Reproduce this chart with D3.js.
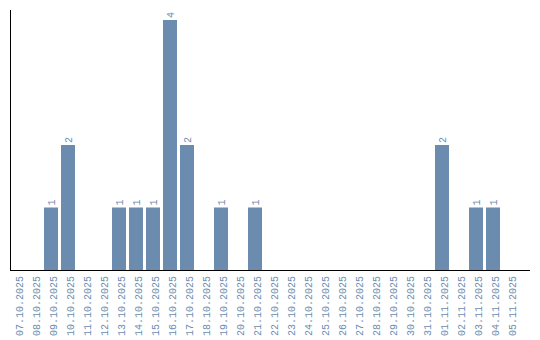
<!DOCTYPE html>
<html><head><meta charset="utf-8">
<script src="https://cdn.jsdelivr.net/npm/d3@7"></script>
<style>body{margin:0;background:#fff}svg{display:block}</style>
</head><body><div id="chart"></div>
<script>
const dates = ["07.10.2025","08.10.2025","09.10.2025","10.10.2025","11.10.2025","12.10.2025","13.10.2025","14.10.2025","15.10.2025","16.10.2025","17.10.2025","18.10.2025","19.10.2025","20.10.2025","21.10.2025","22.10.2025","23.10.2025","24.10.2025","25.10.2025","26.10.2025","27.10.2025","28.10.2025","29.10.2025","30.10.2025","31.10.2025","01.11.2025","02.11.2025","03.11.2025","04.11.2025","05.11.2025"];
const counts = [0,0,1,2,0,0,1,1,1,4,2,0,1,0,1,0,0,0,0,0,0,0,0,0,0,2,0,1,1,0];

const W=540,H=340;
const svg=d3.select("#chart").append("svg").attr("width",W).attr("height",H);
const color="#6b8caf", font="Liberation Mono";
const x=d3.scaleBand().domain(dates).range([10,517]).paddingInner(3/17).paddingOuter(0);
const y=d3.scaleLinear().domain([0,4]).range([270,20]);

svg.append("g").selectAll("rect").data(dates.map((d,i)=>({d,v:counts[i]})).filter(o=>o.v>0))
 .join("rect").attr("x",o=>x(o.d)).attr("width",x.bandwidth())
 .attr("y",o=>y(o.v)).attr("height",o=>y(0)-y(o.v)).attr("fill",color);

svg.append("g").selectAll("text").data(dates.map((d,i)=>({d,v:counts[i]})).filter(o=>o.v>0))
 .join("text").attr("transform",o=>`translate(${x(o.d)+x.bandwidth()/2},${y(o.v)-2}) rotate(-90)`)
 .attr("dy","0.35em").attr("text-anchor","start").attr("font-family",font).attr("font-size",10)
 .attr("fill",color).text(o=>o.v);

svg.append("g").selectAll("text").data(dates).join("text")
 .attr("transform",d=>`translate(${x(d)+x.bandwidth()/2},276) rotate(-90)`)
 .attr("dy","0.55em").attr("text-anchor","end").attr("font-family",font).attr("font-size",10)
 .attr("fill",color).text(d=>d);

svg.append("line").attr("x1",10.5).attr("x2",10.5).attr("y1",10).attr("y2",270).attr("stroke","#000");
svg.append("line").attr("x1",10).attr("x2",530).attr("y1",270.5).attr("y2",270.5).attr("stroke","#000");
</script></body></html>
